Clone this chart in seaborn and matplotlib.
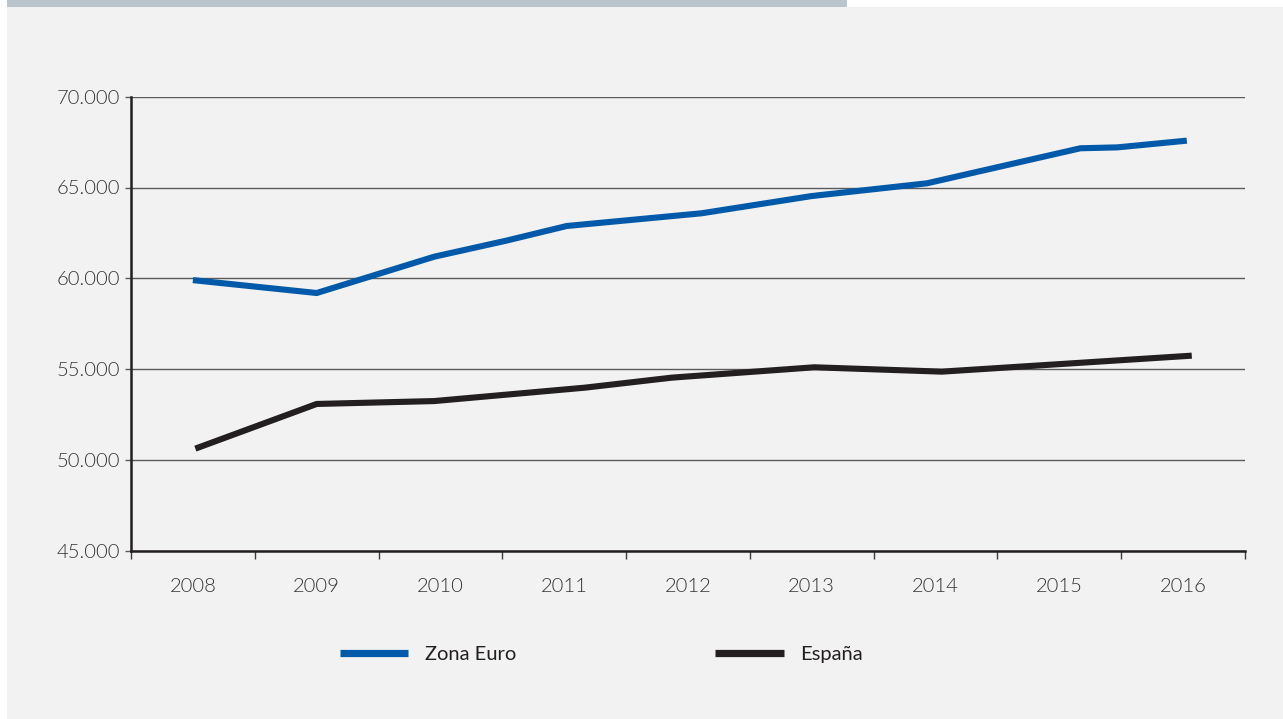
import numpy as np
import pandas as pd
import matplotlib
matplotlib.use("Agg")
import matplotlib.pyplot as plt
from matplotlib.patches import Rectangle
from matplotlib.ticker import FuncFormatter, FixedLocator
import seaborn as sns

# Series (x in fractional years, values in euros)
years = [2008, 2009, 2010, 2011, 2012, 2013, 2014, 2015, 2016]

euro_x = [2008.0, 2009.0, 2009.95, 2010.53, 2011.02, 2012.11, 2013.0, 2013.93, 2015.17, 2015.47, 2016.03]
euro_y = [59900, 59190, 61190, 62070, 62880, 63580, 64530, 65230, 67160, 67210, 67580]

spain_x = [2008.02, 2009.0, 2009.95, 2011.17, 2011.87, 2013.02, 2014.05, 2016.07]
spain_y = [50620, 53080, 53240, 53980, 54530, 55100, 54860, 55740]

series_names = ["Zona Euro", "España"]
series_colors = ["#005aa9", "#231f20"]

df = pd.concat([
    pd.DataFrame({"x": euro_x, "valor": euro_y, "serie": series_names[0]}),
    pd.DataFrame({"x": spain_x, "valor": spain_y, "serie": series_names[1]}),
], ignore_index=True)

sns.set_theme(style="white")
plt.rcParams["font.family"] = ["Lato", "DejaVu Sans"]

W, H = 1283, 719
fig = plt.figure(figsize=(W / 100, H / 100), dpi=100)
fig.patch.set_facecolor("white")

# Background panel and top band
fig.patches.append(Rectangle((7 / W, 0), 1 - 7 / W, 1 - 7 / H, transform=fig.transFigure,
                             facecolor="#f2f2f2", edgecolor="none", zorder=-10))
fig.patches.append(Rectangle((7 / W, 1 - 7 / H), (847 - 7) / W, 7 / H, transform=fig.transFigure,
                             facecolor="#bac4cc", edgecolor="none", zorder=-10))

ax = fig.add_axes([131 / W, 1 - 550.7 / H, (1245 - 131) / W, (550.7 - 96.7) / H])
ax.set_facecolor("none")

sns.lineplot(data=df, x="x", y="valor", hue="serie", palette=dict(zip(series_names, series_colors)),
             estimator=None, sort=False, linewidth=4.4, ax=ax, legend=True)
for ln in ax.get_lines():
    ln.set_solid_capstyle("butt")
    ln.set_solid_joinstyle("miter")

ax.set_xlim(2007.5, 2016.5)
ax.set_ylim(45000, 70000)

# Y axis: grid lines at every 5.000
ax.set_yticks(np.arange(45000, 70001, 5000))
ax.yaxis.set_major_formatter(FuncFormatter(lambda v, p: f"{int(v):,}".replace(",", ".")))
ax.yaxis.grid(True, color="#5a5a5a", linewidth=1.0)
ax.tick_params(axis="y", which="major", left=True, length=4, width=1.0, color="#5a5a5a",
               labelsize=14.5, labelcolor="#333333", pad=4)

# X axis: year labels centered, tick marks at the boundaries
ax.xaxis.set_major_locator(FixedLocator(years))
ax.set_xticklabels([str(y) for y in years])
ax.xaxis.set_minor_locator(FixedLocator(np.arange(2007.5, 2016.51, 1.0)))
ax.tick_params(axis="x", which="major", bottom=True, length=0, labelsize=14.5,
               labelcolor="#333333", pad=20)
ax.tick_params(axis="x", which="minor", bottom=True, length=6, width=1.0, color="#3c3c3c")

for lbl in ax.get_xticklabels() + ax.get_yticklabels():
    lbl.set_fontweight(300)

for s in ["top", "right"]:
    ax.spines[s].set_visible(False)
for s in ["left", "bottom"]:
    ax.spines[s].set_color("#231f20")
    ax.spines[s].set_linewidth(1.8)
ax.set_xlabel("")
ax.set_ylabel("")

handles, labels = ax.get_legend_handles_labels()
ax.get_legend().remove()
leg = fig.legend(handles, labels, loc="center left", bbox_to_anchor=(340 / W, 1 - 654 / H),
                 ncol=2, frameon=False, fontsize=14.5, handlelength=3.4, handletextpad=0.8,
                 columnspacing=9.9, borderpad=0, borderaxespad=0)
for t in leg.get_texts():
    t.set_color("#231f20")
for h in leg.get_lines():
    h.set_linewidth(5.2)
    h.set_solid_capstyle("butt")

fig.savefig("out.png", dpi=100, facecolor=fig.get_facecolor())
